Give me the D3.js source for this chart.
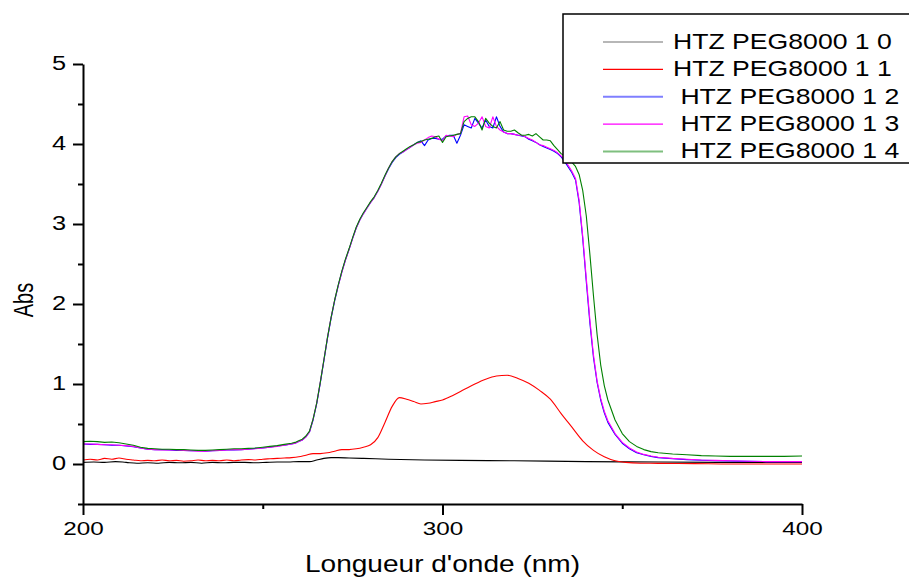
<!DOCTYPE html>
<html>
<head>
<meta charset="utf-8">
<script src="https://cdn.jsdelivr.net/npm/d3@7"></script>
<style>
  html, body { margin: 0; padding: 0; background: #fff; }
  text { font-family: "Liberation Sans", Arial, sans-serif; fill: #000; }
</style>
</head>
<body>
<svg id="chart" width="909" height="577"></svg>
<script>
// ---------------- DATA ----------------
const seriesNames = ["HTZ PEG8000 1 0", "HTZ PEG8000 1 1", " HTZ PEG8000 1 2", " HTZ PEG8000 1 3", " HTZ PEG8000 1 4"];
const seriesColors = ["#000000", "#ff0000", "#0000ff", "#ff00ff", "#008000"];
const legendColors = ["#707070", "#ff0000", "#7f7fff", "#ff00ff", "#7fbf7f"];

const xTicksMajor = [200, 300, 400];
const xTicksMinor = [250, 350];
const yTicksMajor = [0, 1, 2, 3, 4, 5];
const yTicksMinor = [-0.5, 0.5, 1.5, 2.5, 3.5, 4.5];

// HTZ PEG8000 1 0 (black)
const wlBlack = [200,203,206,209,212,215,218,221,224,227,230,233,236,239,242,245,248,251,254,257,260,263,265,267,269,271,274,278,285,295,305,320,340,360,380,400];
const absBlack = [0.02,0.025,0.02,0.03,0.02,0.01,0.015,0.01,0.02,0.015,0.02,0.01,0.02,0.015,0.02,0.02,0.015,0.02,0.025,0.025,0.03,0.03,0.05,0.07,0.08,0.08,0.075,0.07,0.06,0.05,0.045,0.04,0.03,0.025,0.02,0.02];

// HTZ PEG8000 1 1 (red)
const wlRed = [200,202,204,206,208,210,212,214,216,218,220,222,224,226,228,230,232,234,236,238,240,242,244,246,248,250,252,254,256,258,260,262,264,266,268,270,272,274,276,278,280,282,284,286,288,290,292,294,296,298,300,303,306,309,312,315,318,321,324,327,330,333,336,339,342,345,348,351,355,360,370,380,390,400];
const absRed = [0.05,0.06,0.05,0.07,0.06,0.075,0.06,0.05,0.04,0.045,0.04,0.05,0.04,0.045,0.035,0.04,0.05,0.04,0.045,0.04,0.05,0.04,0.05,0.055,0.05,0.06,0.065,0.07,0.075,0.08,0.09,0.11,0.13,0.13,0.14,0.16,0.18,0.18,0.19,0.21,0.24,0.33,0.52,0.72,0.83,0.81,0.78,0.75,0.76,0.78,0.80,0.86,0.93,1.00,1.06,1.10,1.11,1.07,1.01,0.92,0.81,0.63,0.46,0.29,0.17,0.09,0.04,0.02,0.01,0.008,0.005,0.0,0.0,0.0];

// shared wavelength grid for series 1 2, 1 3, 1 4
const wlMain = [200,202,204,206,208,210,212,214,216,218,220,222,224,226,228,230,232,234,236,238,240,242,244,246,248,250,252,254,256,258,
  259,260,261,262,263,264,265,266,267,268,269,270,271,272,273,274,275,276,277,278,279,280,281,282,283,284,285,286,287,288,289,290,291,
  292,293,294,295,296,297,298,299,300,301,302,303,304,305,306,307,308,309,310,311,312,313,314,315,316,317,318,319,320,321,322,323,324,325,326,327,328,329,330,331,332,
  333,334,335,336,337,338,339,340,341,342,343,344,345,346,
  348,350,352,354,356,358,360,
  364,368,372,376,380,385,390,395,400];

// HTZ PEG8000 1 2 (blue)
const absBlue = [0.25,0.245,0.245,0.24,0.235,0.235,0.225,0.215,0.20,0.185,0.18,0.18,0.175,0.17,0.17,0.165,0.165,0.16,0.165,0.17,0.175,0.175,0.18,0.185,0.195,0.20,0.21,0.225,0.235,0.25,
  0.26,0.28,0.30,0.34,0.40,0.55,0.75,1.01,1.29,1.57,1.82,2.04,2.23,2.40,2.55,2.68,2.82,2.95,3.05,3.13,3.20,3.27,3.33,3.41,3.50,3.60,3.69,3.77,3.83,3.87,3.90,3.93,3.96,
  3.99,4.02,4.04,3.98,4.05,4.07,4.07,4.06,4.06,4.10,4.11,4.11,4.01,4.11,4.24,4.22,4.20,4.32,4.26,4.20,4.30,4.22,4.20,4.34,4.22,4.15,4.13,4.13,4.12,4.11,4.10,4.09,4.06,4.04,4.02,3.99,3.97,3.95,3.93,3.91,3.88,
  3.84,3.78,3.71,3.64,3.55,3.27,2.82,2.28,1.76,1.33,1.02,0.80,0.64,0.52,
  0.37,0.26,0.19,0.14,0.115,0.095,0.08,
  0.065,0.055,0.047,0.042,0.037,0.033,0.03,0.028,0.028];

// HTZ PEG8000 1 3 (magenta)
const absMagenta = [0.25,0.25,0.245,0.24,0.24,0.235,0.23,0.22,0.20,0.185,0.18,0.175,0.175,0.175,0.17,0.165,0.16,0.16,0.165,0.17,0.175,0.18,0.18,0.185,0.19,0.20,0.21,0.22,0.235,0.25,
  0.26,0.28,0.30,0.34,0.40,0.56,0.76,1.02,1.30,1.58,1.83,2.05,2.23,2.40,2.55,2.68,2.82,2.95,3.05,3.13,3.20,3.27,3.33,3.41,3.50,3.60,3.70,3.78,3.84,3.88,3.90,3.93,3.96,
  3.99,4.01,4.02,4.05,4.08,4.10,4.09,4.06,4.04,4.11,4.10,4.09,4.12,4.13,4.34,4.35,4.24,4.22,4.26,4.34,4.22,4.20,4.34,4.22,4.175,4.15,4.13,4.13,4.12,4.11,4.11,4.09,4.07,4.05,4.02,3.99,3.98,3.96,3.94,3.92,3.89,
  3.85,3.80,3.73,3.66,3.57,3.30,2.85,2.32,1.80,1.36,1.04,0.82,0.66,0.54,
  0.38,0.27,0.20,0.15,0.12,0.10,0.085,
  0.07,0.06,0.05,0.045,0.04,0.035,0.03,0.03,0.03];

// HTZ PEG8000 1 4 (green)
const absGreen = [0.28,0.285,0.28,0.27,0.275,0.265,0.25,0.235,0.21,0.195,0.19,0.185,0.185,0.18,0.18,0.175,0.17,0.17,0.175,0.18,0.185,0.19,0.19,0.195,0.20,0.21,0.22,0.23,0.245,0.26,
  0.27,0.29,0.31,0.35,0.41,0.56,0.76,1.02,1.30,1.58,1.83,2.05,2.24,2.41,2.56,2.69,2.83,2.96,3.06,3.14,3.21,3.28,3.34,3.42,3.51,3.61,3.70,3.78,3.84,3.88,3.91,3.94,3.97,
  3.99,4.02,4.03,4.05,4.06,4.07,4.09,4.10,4.02,4.09,4.10,4.11,4.12,4.13,4.28,4.32,4.34,4.34,4.28,4.175,4.32,4.26,4.22,4.20,4.28,4.175,4.16,4.16,4.175,4.14,4.11,4.11,4.12,4.10,4.13,4.09,4.05,4.05,4.04,3.98,3.93,
  3.88,3.85,3.81,3.77,3.72,3.62,3.42,3.10,2.62,2.10,1.62,1.24,0.98,0.80,
  0.55,0.38,0.28,0.22,0.18,0.155,0.14,
  0.125,0.115,0.105,0.10,0.095,0.095,0.095,0.095,0.10];

const series = [
  {wl: wlBlack, v: absBlack, smooth: true},
  {wl: wlRed, v: absRed, smooth: true},
  {wl: wlMain, v: absBlue, smooth: false},
  {wl: wlMain, v: absMagenta, smooth: false},
  {wl: wlMain, v: absGreen, smooth: false}
];

// ---------------- CHART ----------------
const svg = d3.select("#chart");
const x = d3.scaleLinear().domain([200, 400]).range([83, 802]);
const y = d3.scaleLinear().domain([-0.5, 5]).range([504, 64]);

const plot = svg.append("g");

series.forEach((s, i) => {
  const pts = s.wl.map((w, k) => [x(w), y(s.v[k])]);
  const line = d3.line().x(d => d[0]).y(d => d[1])
    .curve(s.smooth ? d3.curveMonotoneX : d3.curveLinear);
  plot.append("path")
    .attr("d", line(pts))
    .attr("fill", "none")
    .attr("stroke", seriesColors[i])
    .attr("stroke-width", 1.1)
    .attr("stroke-linejoin", "round");
});

// X axis
const xAxisG = svg.append("g").attr("transform", `translate(0,${y(-0.5)})`);
xAxisG.call(d3.axisBottom(x).tickValues(xTicksMajor).tickSize(11).tickSizeOuter(0).tickFormat(d3.format("d")));
xAxisG.append("g").call(d3.axisBottom(x).tickValues(xTicksMinor).tickSize(5).tickSizeOuter(0).tickFormat(""))
  .select(".domain").remove();
xAxisG.selectAll("path.domain").attr("stroke", "#000").attr("stroke-width", 2);
xAxisG.selectAll(".tick line").attr("stroke", "#000").attr("stroke-width", 2);
xAxisG.selectAll(".tick text")
  .attr("y", 0).attr("dy", null)
  .attr("font-size", 18)
  .attr("font-family", "Liberation Sans, Arial, sans-serif")
  .attr("transform", "translate(0,31) scale(1.35,1)");

// Y axis
const yAxisG = svg.append("g").attr("transform", `translate(${x(200)},0)`);
yAxisG.call(d3.axisLeft(y).tickValues(yTicksMajor).tickSize(10).tickSizeOuter(0).tickFormat(d3.format("d")));
yAxisG.append("g").call(d3.axisLeft(y).tickValues(yTicksMinor).tickSize(5).tickSizeOuter(0).tickFormat(""))
  .select(".domain").remove();
yAxisG.selectAll("path.domain").attr("stroke", "#000").attr("stroke-width", 2);
yAxisG.selectAll(".tick line").attr("stroke", "#000").attr("stroke-width", 2);
yAxisG.selectAll(".tick text")
  .attr("x", 0).attr("dy", null)
  .attr("font-size", 19.5)
  .attr("font-family", "Liberation Sans, Arial, sans-serif")
  .attr("text-anchor", "end")
  .attr("transform", "translate(-17,5.5) scale(1.3,1)");

// Axis titles
svg.append("text")
  .attr("text-anchor", "middle")
  .attr("font-size", 23)
  .attr("transform", `translate(${(x(200) + x(400)) / 2},572) scale(1.22,1)`)
  .text("Longueur d'onde (nm)");

svg.append("text")
  .attr("text-anchor", "middle")
  .attr("font-size", 20)
  .attr("transform", `translate(33,${y(2) - 4}) scale(1.35,1) rotate(-90)`)
  .text("Abs");

// Legend
const legend = svg.append("g");
legend.append("rect")
  .attr("x", 563).attr("y", 14).attr("width", 360).attr("height", 149)
  .attr("fill", "#fff").attr("stroke", "#000").attr("stroke-width", 1.5);

seriesNames.forEach((name, i) => {
  const ly = 42 + i * 27.4;
  legend.append("line")
    .attr("x1", 603).attr("x2", 663).attr("y1", ly).attr("y2", ly)
    .attr("stroke", legendColors[i])
    .attr("stroke-width", (i === 2 || i === 4) ? 2 : 1.2);
  legend.append("text")
    .attr("font-size", 22)
    .style("white-space", "pre")
    .attr("transform", `translate(673,${ly + 6.8}) scale(1.21,1)`)
    .text(name);
});
</script>
</body>
</html>
